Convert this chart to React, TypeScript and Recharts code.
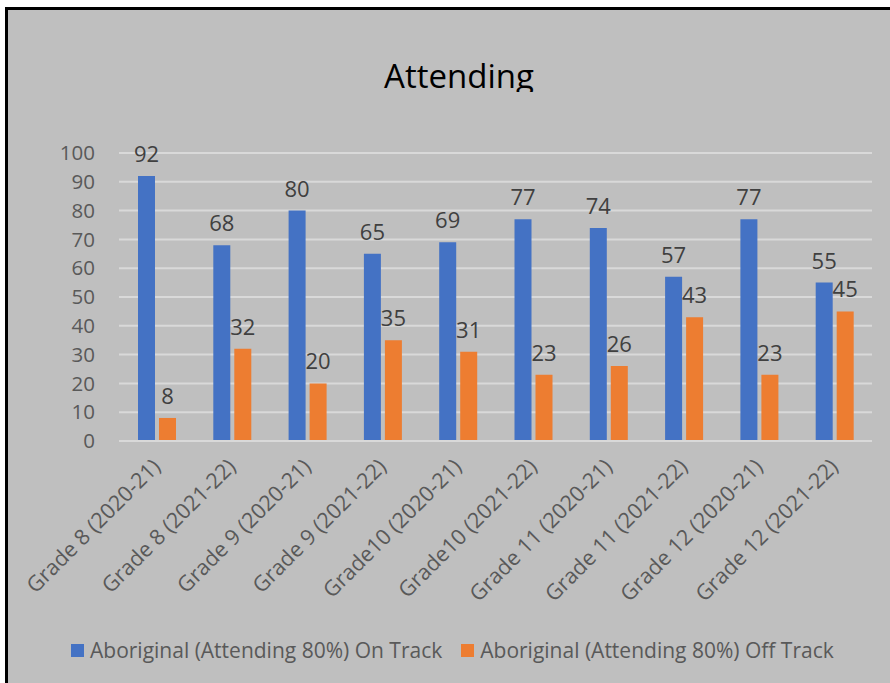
import React from 'react';
import { BarChart, Bar, XAxis, YAxis, CartesianGrid, Legend, LabelList } from 'recharts';

const categories = [
  'Grade 8 (2020-21)',
  'Grade 8 (2021-22)',
  'Grade 9 (2020-21)',
  'Grade 9 (2021-22)',
  'Grade10 (2020-21)',
  'Grade10 (2021-22)',
  'Grade 11 (2020-21)',
  'Grade 11 (2021-22)',
  'Grade 12 (2020-21)',
  'Grade 12 (2021-22)',
];
const onTrack = [92, 68, 80, 65, 69, 77, 74, 57, 77, 55];
const offTrack = [8, 32, 20, 35, 31, 23, 26, 43, 23, 45];
const yTicks = [0, 10, 20, 30, 40, 50, 60, 70, 80, 90, 100];

const seriesNames = {
  on: 'Aboriginal (Attending 80%) On Track',
  off: 'Aboriginal (Attending 80%) Off Track',
};

const data = categories.map((name, i) => ({ name, on: onTrack[i], off: offTrack[i] }));

const FONT = '"Open Sans", Lato, sans-serif';
const BLUE = '#4472C4';
const ORANGE = '#ED7D31';

const AngledTick = (props: any) => {
  const { x, y, payload } = props;
  const ax = x + 5;
  const ay = y + 19;
  return (
    <text
      x={ax}
      y={ay}
      transform={`rotate(-45, ${ax}, ${ay})`}
      textAnchor="end"
      fill="#595959"
      fontSize={21.5}
      fontFamily={FONT}
    >
      {payload.value}
    </text>
  );
};

const LegendContent = () => (
  <div style={{ display: 'flex', alignItems: 'center', paddingLeft: 71, paddingTop: 1, fontFamily: FONT, fontSize: 21, color: '#595959' }}>
    <span style={{ width: 13, height: 13, background: BLUE, display: 'inline-block', marginRight: 6 }} />
    <span style={{ marginRight: 19 }}>{seriesNames.on}</span>
    <span style={{ width: 13, height: 13, background: ORANGE, display: 'inline-block', marginRight: 6 }} />
    <span>{seriesNames.off}</span>
  </div>
);

export default function App() {
  return (
    <div style={{ position: 'fixed', left: 0, top: 0, width: 890, height: 683, background: '#fff', overflow: 'hidden' }}>
      <div
        style={{
          position: 'absolute',
          left: 5,
          top: 7,
          right: 0,
          bottom: 0,
          background: '#bfbfbf',
          borderLeft: '3px solid #000',
          borderTop: '3px solid #000',
        }}
      />
      {/* title box is cut just under the baseline */}
      <div
        style={{
          position: 'absolute',
          left: 28,
          width: 862,
          top: 53,
          height: 39,
          overflow: 'hidden',
          textAlign: 'center',
          fontFamily: FONT,
          fontSize: 33,
          lineHeight: '46px',
          color: '#000',
        }}
      >
        Attending
      </div>
      <div style={{ position: 'absolute', left: 0, top: 0 }}>
        <BarChart
          width={890}
          height={683}
          data={data}
          margin={{ top: 153, right: 18, bottom: 18, left: 0 }}
          barSize={17}
          barGap={4}
        >
          <CartesianGrid vertical={false} stroke="#d9d9d9" strokeWidth={2} />
          <XAxis
            dataKey="name"
            interval={0}
            height={194}
            axisLine={{ stroke: '#d9d9d9', strokeWidth: 2 }}
            tickLine={false}
            tick={<AngledTick />}
          />
          <YAxis
            domain={[0, 100]}
            ticks={yTicks}
            interval={0}
            width={119}
            axisLine={false}
            tickLine={false}
            tickMargin={18}
            tick={{ fill: '#595959', fontSize: 20.5, fontFamily: FONT }}
          />
          <Legend verticalAlign="bottom" height={30} content={<LegendContent />} />
          <Bar dataKey="on" name={seriesNames.on} fill={BLUE} isAnimationActive={false}>
            <LabelList dataKey="on" position="top" offset={14} fill="#404040" fontSize={22} fontFamily={FONT} />
          </Bar>
          <Bar dataKey="off" name={seriesNames.off} fill={ORANGE} isAnimationActive={false}>
            <LabelList dataKey="off" position="top" offset={14} fill="#404040" fontSize={22} fontFamily={FONT} />
          </Bar>
        </BarChart>
      </div>
    </div>
  );
}
